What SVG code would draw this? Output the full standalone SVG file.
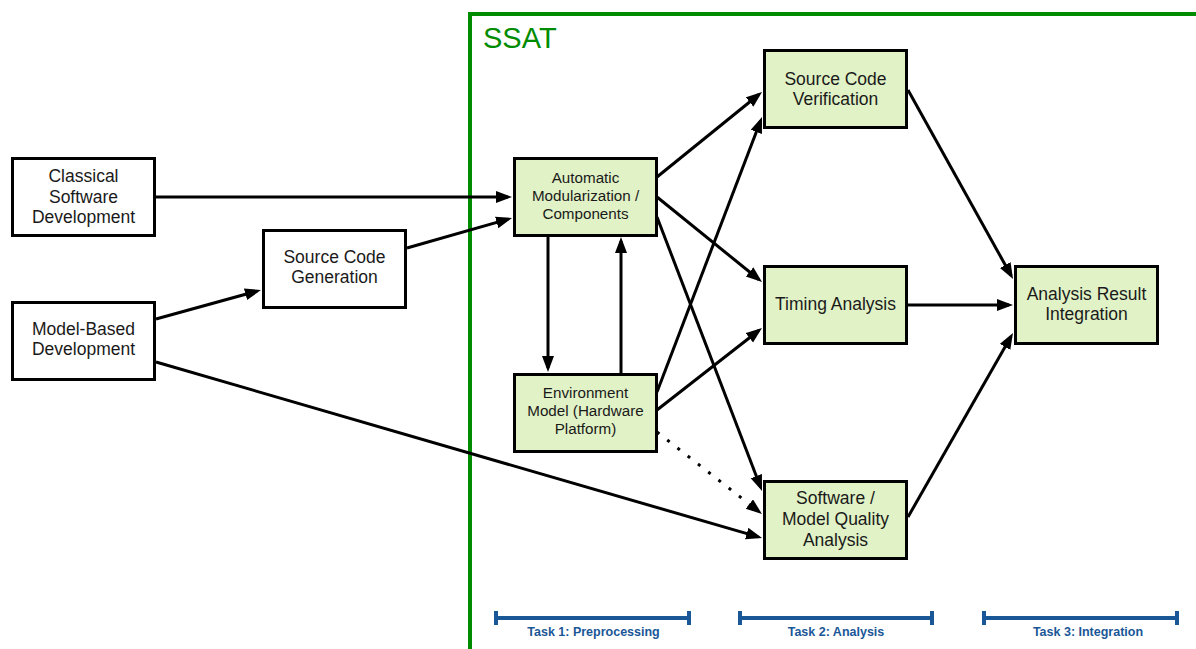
<svg xmlns="http://www.w3.org/2000/svg" width="1196" height="649" viewBox="0 0 1196 649">
  <defs>
    <style>
      .box { fill: #ffffff; stroke: #000000; stroke-width: 3; }
      .green { fill: #e1f2c6; }
      .lbl { font-family: "Liberation Sans", Arial, Helvetica, sans-serif; fill: #1a1a1a; text-anchor: middle; }
      .big { font-size: 17.5px; }
      .small { font-size: 15.2px; }
      .edge { fill: none; stroke: #000000; stroke-width: 3; marker-end: url(#arrow); }
      .dotted { stroke-dasharray: 3 10; }
      .task { stroke: #1a5797; stroke-width: 4; fill: none; }
      .tasklbl { font-family: "Liberation Sans", Arial, Helvetica, sans-serif; font-weight: bold; font-size: 12.5px; fill: #1a5797; text-anchor: middle; }
    </style>
    <marker id="arrow" markerUnits="userSpaceOnUse" markerWidth="18" markerHeight="14" refX="12" refY="6" orient="auto">
      <path d="M0,0 L16,6 L0,12 z" fill="#000000"/>
    </marker>
  </defs>

  <rect width="1196" height="649" fill="#ffffff"/>

  <!-- SSAT tool boundary -->
  <g id="ssat-frame">
    <rect x="470" y="14" width="800" height="700" fill="none" stroke="#008c00" stroke-width="4"/>
    <text x="483" y="48" font-family="'Liberation Sans', Arial, sans-serif" font-size="29" fill="#008c00">SSAT</text>
  </g>

  <!-- connectors -->
  <g id="connectors">
    <line class="edge" x1="156" y1="197" x2="508" y2="197"/>
    <line class="edge" x1="407" y1="248" x2="508.2" y2="219.1"/>
    <line class="edge" x1="156" y1="319" x2="257.1" y2="291.1"/>
    <line class="edge" x1="156" y1="362" x2="758.2" y2="536.9"/>
    <line class="edge" x1="548" y1="237" x2="548" y2="368"/>
    <line class="edge" x1="621" y1="373" x2="621" y2="241"/>
    <line class="edge" x1="657" y1="177" x2="758.9" y2="94.5"/>
    <line class="edge" x1="657" y1="197" x2="758.9" y2="279.5"/>
    <line class="edge" x1="657" y1="217" x2="760.6" y2="487.3"/>
    <line class="edge" x1="657" y1="392" x2="760.6" y2="120.7"/>
    <line class="edge" x1="657" y1="410" x2="758.8" y2="330.5"/>
    <line class="edge dotted" x1="657" y1="432" x2="758.8" y2="511.5"/>
    <line class="edge" x1="908" y1="90" x2="1011.1" y2="275.5"/>
    <line class="edge" x1="908" y1="305" x2="1009" y2="305"/>
    <line class="edge" x1="908" y1="517" x2="1011" y2="336.5"/>
  </g>

  <!-- inputs outside the tool -->
  <g id="classical-dev">
    <rect class="box" x="12.5" y="158.5" width="142" height="77"/>
    <text class="lbl big" x="83.5" y="182">Classical</text>
    <text class="lbl big" x="83.5" y="203">Software</text>
    <text class="lbl big" x="83.5" y="223">Development</text>
  </g>
  <g id="model-based-dev">
    <rect class="box" x="12.5" y="302.5" width="142" height="77"/>
    <text class="lbl big" x="83.5" y="335">Model-Based</text>
    <text class="lbl big" x="83.5" y="355">Development</text>
  </g>
  <g id="source-code-gen">
    <rect class="box" x="263.5" y="230.5" width="142" height="77"/>
    <text class="lbl big" x="334.5" y="263">Source Code</text>
    <text class="lbl big" x="334.5" y="283">Generation</text>
  </g>

  <!-- Task 1: preprocessing -->
  <g id="auto-modularization">
    <rect class="box green" x="514.5" y="158.5" width="142" height="77"/>
    <text class="lbl small" x="585.5" y="183">Automatic</text>
    <text class="lbl small" x="585.5" y="201">Modularization /</text>
    <text class="lbl small" x="585.5" y="219">Components</text>
  </g>
  <g id="environment-model">
    <rect class="box green" x="514.5" y="374.5" width="142" height="77"/>
    <text class="lbl small" x="585.5" y="398">Environment</text>
    <text class="lbl small" x="585.5" y="416">Model (Hardware</text>
    <text class="lbl small" x="585.5" y="434">Platform)</text>
  </g>

  <!-- Task 2: analysis -->
  <g id="source-code-verification">
    <rect class="box green" x="764.5" y="50.5" width="142" height="77"/>
    <text class="lbl big" x="835.5" y="85">Source Code</text>
    <text class="lbl big" x="835.5" y="105">Verification</text>
  </g>
  <g id="timing-analysis">
    <rect class="box green" x="764.5" y="266.5" width="142" height="77"/>
    <text class="lbl big" x="835.5" y="310">Timing Analysis</text>
  </g>
  <g id="quality-analysis">
    <rect class="box green" x="764.5" y="481.5" width="142" height="77"/>
    <text class="lbl big" x="835.5" y="504">Software /</text>
    <text class="lbl big" x="835.5" y="525">Model Quality</text>
    <text class="lbl big" x="835.5" y="546">Analysis</text>
  </g>

  <!-- Task 3: integration -->
  <g id="result-integration">
    <rect class="box green" x="1015.5" y="266.5" width="142" height="77"/>
    <text class="lbl big" x="1086.5" y="300">Analysis Result</text>
    <text class="lbl big" x="1086.5" y="320">Integration</text>
  </g>

  <!-- task phase bars -->
  <g id="task-bars">
    <path class="task" d="M496,618 H689 M496,611 V625 M689,611 V625"/>
    <text class="tasklbl" x="593.5" y="636">Task 1: Preprocessing</text>
    <path class="task" d="M740,618 H932 M740,611 V625 M932,611 V625"/>
    <text class="tasklbl" x="836" y="636">Task 2: Analysis</text>
    <path class="task" d="M984,618 H1177 M984,611 V625 M1177,611 V625"/>
    <text class="tasklbl" x="1088" y="636">Task 3: Integration</text>
  </g>
</svg>
